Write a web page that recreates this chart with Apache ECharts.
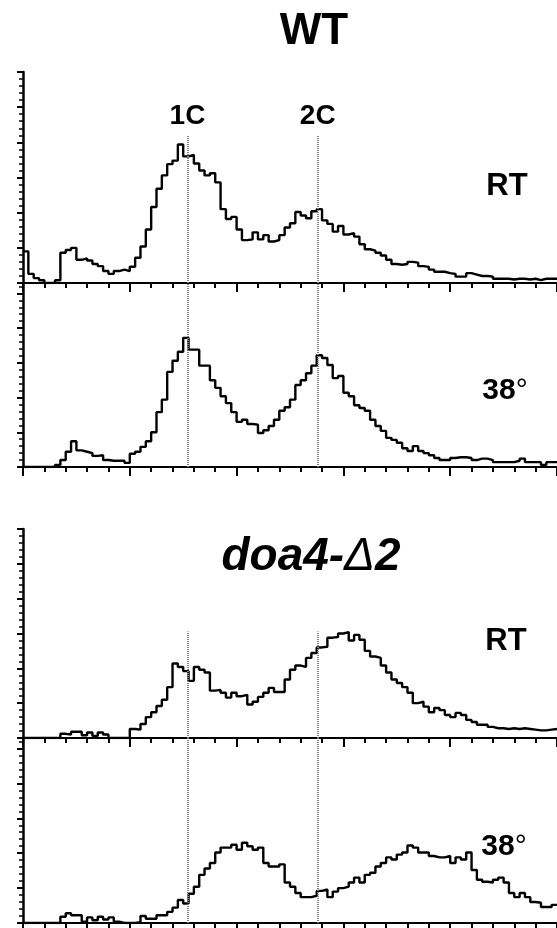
<!DOCTYPE html>
<html><head><meta charset="utf-8">
<script src="https://cdn.jsdelivr.net/npm/echarts@6/dist/echarts.min.js"></script>
<style>html,body{margin:0;padding:0;background:#fff}#c{width:557px;height:928px}</style>
</head><body><div id="c"></div>
<script>
// ---- data (histogram counts per bin, bin width 2.5 channel units, channel 0..250) ----
const binWidth = 2.5;
const wtRT = [45,13,7,4,0,0,4,43,47,50,33,35,32,27,24,17,13,17,19,17,
  23,36,52,76,108,134,153,169,174,197,180,182,170,160,153,156,143,105,91,94,
  76,61,62,72,62,68,59,61,68,79,85,101,96,92,102,105,89,84,73,81,
  69,71,66,55,48,46,43,39,33,27,26,27,30,29,24,23,19,16,16,14,
  13,9,9,14,12,10,10,9,6,6,6,5,6,6,5,6,4,6,6,6];
const wt38 = [0,0,0,0,0,0,3,10,22,37,24,22,20,16,17,10,9,9,9,6,
  19,22,29,37,50,79,97,137,153,166,186,169,169,146,146,125,114,102,92,79,
  65,68,62,61,49,53,59,68,81,86,97,118,125,135,146,161,157,147,128,131,
  107,102,89,85,81,68,59,52,42,39,35,27,23,30,23,20,17,13,10,10,
  13,14,14,13,10,12,12,10,7,7,7,7,9,12,7,7,7,3,7,7];
const doaRT = [0,0,0,0,0,0,0,6,5,9,9,4,8,3,8,5,0,0,0,0,
  13,12,20,30,37,46,55,73,107,102,96,82,102,98,94,68,69,65,58,65,
  60,62,48,52,59,65,72,66,66,84,98,104,102,115,122,130,131,144,145,150,
  152,140,148,141,125,117,115,104,94,84,79,73,65,50,52,45,37,43,40,33,
  30,36,33,26,23,19,19,16,14,14,13,14,13,14,13,12,11,11,12,13];
const doa38 = [0,0,0,0,0,0,0,9,14,11,11,2,8,4,9,5,8,2,0,0,
  0,1,10,6,6,11,11,16,22,33,28,42,52,69,78,86,101,108,108,112,
  105,115,110,105,108,86,81,81,84,58,52,43,37,37,39,46,48,37,45,50,
  52,58,65,58,69,72,81,86,94,91,98,101,111,108,101,101,96,94,94,96,
  86,94,91,101,76,62,59,58,62,65,58,43,37,43,37,30,29,23,23,26];
const xRange = [0, 250];
const peakNames = ['1C', '2C'];
const peakChannels = [77, 138];
const panelNames = ['RT', '38', 'RT', '38'];
const titleNames = ['WT', 'doa4-', 'Δ', '2'];
const yMax = [300, 265, 300, 265];
const markTop = [209, 265, 153, 265];

const series = [wtRT, wt38, doaRT, doa38];
const grids = [
  {left: 23, width: 534, top: 72, height: 211},
  {left: 23, width: 534, top: 283, height: 184},
  {left: 23, width: 534, top: 529, height: 209},
  {left: 23, width: 534, top: 738, height: 185}
];
const FONT = '"Liberation Sans", Arial, Helvetica, sans-serif';

const chart = echarts.init(document.getElementById('c'), null, {renderer: 'canvas'});
const label38 = (x, y, t) => ({type: 'text', x: x, y: y, style: {
  text: '{a|' + t + '}{b|°}', textAlign: 'center', textVerticalAlign: 'middle',
  rich: {a: {font: 'bold 30px ' + FONT, fill: '#000', color: '#000'},
         b: {font: '30px ' + FONT, fill: '#000', color: '#000'}}}});
const option = {
  animation: false,
  backgroundColor: '#fff',
  grid: grids,
  xAxis: grids.map((g, i) => ({
    type: 'value', gridIndex: i, min: xRange[0], max: xRange[1], interval: 50,
    axisLine: {show: true, onZero: false, lineStyle: {color: '#000', width: 2}},
    axisTick: {show: true, inside: false, length: 9, lineStyle: {color: '#000', width: 2}},
    minorTick: {show: true, splitNumber: 5, length: 5, lineStyle: {color: '#000', width: 2}},
    axisLabel: {show: false}, splitLine: {show: false}
  })),
  yAxis: grids.map((g, i) => ({
    type: 'value', gridIndex: i, min: 0, max: yMax[i], interval: 50,
    axisLine: {show: true, lineStyle: {color: '#000', width: 2.5}},
    axisTick: {show: true, inside: false, length: 6, lineStyle: {color: '#000', width: 2}},
    minorTick: {show: true, splitNumber: 5, length: 4, lineStyle: {color: '#000', width: 1.5}},
    axisLabel: {show: false}, splitLine: {show: false}
  })),
  series: series.map((vals, i) => {
    const pts = vals.map((v, k) => [k * binWidth, v]);
    pts.push([xRange[1], vals[vals.length - 1]]);
    return {
      type: 'line', xAxisIndex: i, yAxisIndex: i, step: 'end', symbol: 'none',
      data: pts,
      lineStyle: {color: '#000', width: 2.4},
      markLine: {
        silent: true, symbol: ['none', 'none'], animation: false,
        lineStyle: {color: '#808080', width: 2, type: [1, 1]},
        label: i === 0 ? {show: true, position: 'end', distance: 6, formatter: '{b}',
          color: '#000', fontSize: 28, fontWeight: 'bold', fontFamily: FONT} : {show: false},
        data: peakChannels.map((p, k) => [
          {coord: [p, 0], name: peakNames[k]},
          {coord: [p, markTop[i]]}
        ])
      }
    };
  }),
  graphic: [
    {type: 'text', x: 314, y: 32, style: {text: titleNames[0], font: 'bold 44px ' + FONT, fill: '#000', textAlign: 'center', textVerticalAlign: 'middle'}},
    {type: 'text', x: 311, y: 557, style: {
      text: '{a|' + titleNames[1] + '}{b|' + titleNames[2] + '}{a|' + titleNames[3] + '}',
      textAlign: 'center', textVerticalAlign: 'middle',
      rich: {a: {font: 'italic bold 46px ' + FONT, fill: '#000', color: '#000'},
             b: {font: 'italic 46px ' + FONT, fill: '#000', color: '#000'}}}},
    {type: 'text', x: 507, y: 186, style: {text: panelNames[0], font: 'bold 31px ' + FONT, fill: '#000', textAlign: 'center', textVerticalAlign: 'middle'}},
    label38(505, 391, panelNames[1]),
    {type: 'text', x: 506, y: 641, style: {text: panelNames[2], font: 'bold 31px ' + FONT, fill: '#000', textAlign: 'center', textVerticalAlign: 'middle'}},
    label38(504, 847, panelNames[3])
  ]
};
chart.setOption(option);
</script></body></html>
